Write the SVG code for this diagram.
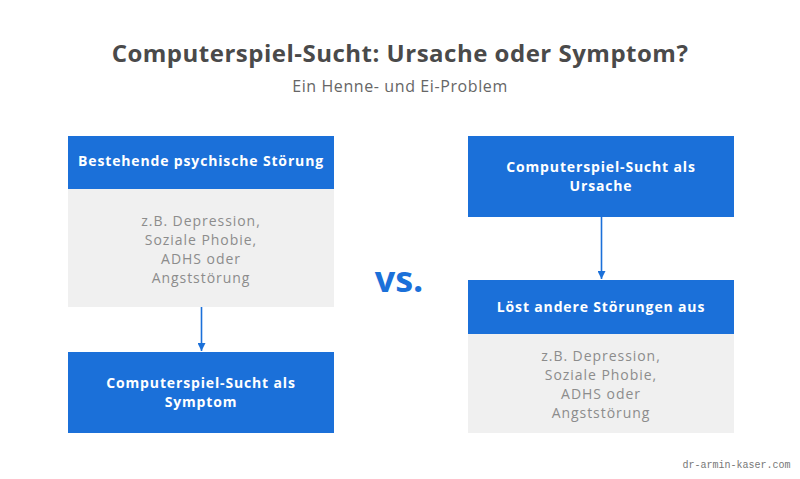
<svg xmlns="http://www.w3.org/2000/svg" width="800" height="479" viewBox="0 0 800 479">
<style>
text{font-family:"Open Sans","Noto Sans","Liberation Sans",sans-serif;text-anchor:middle}
.blue{fill:#1b70d9}
.gray{fill:#f0f0f0}
.h{font-size:14px;font-weight:bold;fill:#ffffff;letter-spacing:0.85px}
.g{font-size:14px;fill:#8c8c8c;letter-spacing:0.95px}
.conn{stroke:#1b70d9;stroke-width:1.6;fill:none}
</style>
<defs>
<marker id="arr" viewBox="0 0 10 10" refX="10" refY="5" markerWidth="8" markerHeight="8" markerUnits="userSpaceOnUse" orient="auto">
<path d="M0,0 L10,5 L0,10 z" fill="#1b70d9"/>
</marker>
</defs>
<rect width="800" height="479" fill="#ffffff"/>
<text x="400" y="62" style="font-size:24px;font-weight:bold;fill:#4a4a4a;letter-spacing:0.5px">Computerspiel-Sucht: Ursache oder Symptom?</text>
<text x="400" y="92" style="font-size:16px;fill:#666666;letter-spacing:0.6px">Ein Henne- und Ei-Problem</text>

<g id="left-top">
<rect class="blue" x="68" y="136" width="266" height="53"/>
<text class="h" x="201" y="166">Bestehende psychische Störung</text>
</g>
<g id="left-detail">
<rect class="gray" x="68" y="189" width="266" height="118"/>
<text class="g" x="201" y="225.5">z.B. Depression,</text>
<text class="g" x="201" y="244.5">Soziale Phobie,</text>
<text class="g" x="201" y="263.5">ADHS oder</text>
<text class="g" x="201" y="282.5">Angststörung</text>
</g>
<g id="left-bottom">
<rect class="blue" x="68" y="352" width="266" height="81"/>
<text class="h" x="201" y="388">Computerspiel-Sucht als</text>
<text class="h" x="201" y="407">Symptom</text>
</g>

<g id="vs">
<text x="399" y="292" style="font-size:36px;font-weight:bold;fill:#1b70d9">vs.</text>
</g>

<g id="right-top">
<rect class="blue" x="468" y="136" width="266" height="81"/>
<text class="h" x="601" y="172">Computerspiel-Sucht als</text>
<text class="h" x="601" y="191">Ursache</text>
</g>
<g id="right-middle">
<rect class="blue" x="468" y="280" width="266" height="54"/>
<text class="h" x="601" y="312">Löst andere Störungen aus</text>
</g>
<g id="right-detail">
<rect class="gray" x="468" y="334" width="266" height="99"/>
<text class="g" x="601" y="361">z.B. Depression,</text>
<text class="g" x="601" y="380">Soziale Phobie,</text>
<text class="g" x="601" y="399">ADHS oder</text>
<text class="g" x="601" y="418">Angststörung</text>
</g>

<g id="connectors">
<line class="conn" x1="201.5" y1="307" x2="201.5" y2="351" marker-end="url(#arr)"/>
<line class="conn" x1="601.5" y1="217" x2="601.5" y2="279" marker-end="url(#arr)"/>
</g>

<text x="736.5" y="468" style="font-family:'Liberation Mono','DejaVu Sans Mono',monospace;font-size:10px;fill:#777777">dr-armin-kaser.com</text>
</svg>
